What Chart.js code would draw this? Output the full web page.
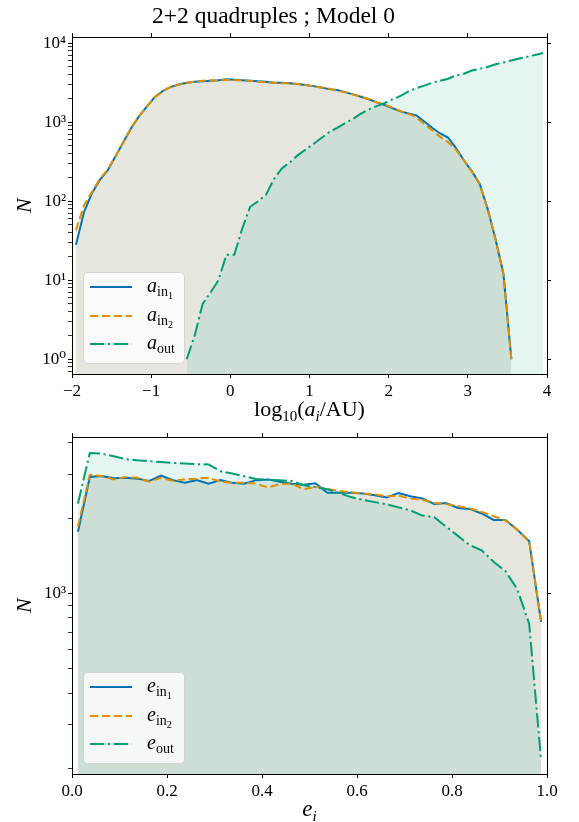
<!DOCTYPE html>
<html>
<head>
<meta charset="utf-8">
<script src="https://cdn.jsdelivr.net/npm/chart.js@4.4.1/dist/chart.umd.min.js"></script>
<style>
  html, body { margin: 0; padding: 0; background: #fff; }
  canvas { display: block; }
</style>
</head>
<body>
<canvas id="aChart" width="579" height="425"></canvas>
<canvas id="eChart" width="579" height="397"></canvas>
<script>
// ---- data: semimajor axes, log10(a/AU) bin centres ----
const aBins = [-1.95, -1.85, -1.75, -1.65, -1.55, -1.45, -1.35, -1.25, -1.15, -1.05,
  -0.95, -0.85, -0.75, -0.65, -0.55, -0.45, -0.35, -0.25, -0.15, -0.05,
  0.05, 0.15, 0.25, 0.35, 0.45, 0.55, 0.65, 0.75, 0.85, 0.95,
  1.05, 1.15, 1.25, 1.35, 1.45, 1.55, 1.65, 1.75, 1.85, 1.95,
  2.05, 2.15, 2.25, 2.35, 2.45, 2.55, 2.65, 2.75, 2.85, 2.95,
  3.05, 3.15, 3.25, 3.35, 3.45, 3.55, 3.65, 3.75, 3.85, 3.95];
const aIn1 = [28, 72, 125, 185, 245, 370, 560, 850, 1200, 1600,
  2100, 2500, 2800, 3000, 3150, 3250, 3300, 3350, 3400, 3500,
  3450, 3400, 3350, 3300, 3250, 3150, 3150, 3100, 3050, 2950,
  2860, 2750, 2620, 2550, 2400, 2250, 2100, 1950, 1780, 1650,
  1500, 1370, 1290, 1220, 1020, 850, 720, 640, 470, 330,
  240, 165, 80, 33, 12, 1, 0, 0, 0, 0];
const aIn2 = [43, 88, 130, 190, 250, 370, 560, 860, 1200, 1600,
  2080, 2480, 2800, 3000, 3150, 3250, 3350, 3400, 3350, 3450,
  3400, 3400, 3350, 3250, 3200, 3150, 3100, 3100, 3050, 2950,
  2850, 2750, 2650, 2500, 2400, 2250, 2100, 1950, 1780, 1680,
  1520, 1380, 1280, 1150, 950, 790, 650, 560, 450, 330,
  240, 165, 80, 33, 12, 1, 0, 0, 0, 0];
const aOut = [0, 0, 0, 0, 0, 0, 0, 0, 0, 0,
  0, 0, 0, 0, 1, 2, 5, 7, 10, 21,
  21, 45, 85, 100, 120, 190, 260, 310, 380, 450,
  530, 630, 750, 850, 970, 1100, 1280, 1450, 1600, 1750,
  1950, 2150, 2450, 2700, 2900, 3150, 3350, 3550, 3900, 4100,
  4500, 4750, 5000, 5400, 5700, 6050, 6400, 6750, 7100, 7500];

// ---- data: eccentricities, bin centres ----
const eBins = [0.0125, 0.0375, 0.0625, 0.0875, 0.1125, 0.1375, 0.1625, 0.1875, 0.2125, 0.2375,
  0.2625, 0.2875, 0.3125, 0.3375, 0.3625, 0.3875, 0.4125, 0.4375, 0.4625, 0.4875,
  0.5125, 0.5375, 0.5625, 0.5875, 0.6125, 0.6375, 0.6625, 0.6875, 0.7125, 0.7375,
  0.7625, 0.7875, 0.8125, 0.8375, 0.8625, 0.8875, 0.9125, 0.9375, 0.9625, 0.9875];
const eIn1 = [1766, 2925, 2950, 2890, 2905, 2880, 2820, 2960, 2840, 2775,
  2840, 2750, 2840, 2770, 2750, 2840, 2860, 2800, 2750, 2720,
  2760, 2530, 2530, 2530, 2510, 2470, 2420, 2520, 2450, 2400,
  2280, 2300, 2200, 2180, 2090, 1970, 1970, 1800, 1620, 770];
const eIn2 = [1850, 2985, 2950, 2860, 2920, 2905, 2800, 2905, 2820, 2865,
  2880, 2905, 2800, 2770, 2775, 2750, 2655, 2740, 2750, 2615,
  2670, 2620, 2570, 2540, 2510, 2490, 2450, 2460, 2400, 2370,
  2300, 2280, 2240, 2190, 2120, 2040, 1960, 1800, 1610, 780];
const eOut = [2290, 3646, 3622, 3537, 3450, 3408, 3378, 3360, 3330, 3310,
  3290, 3280, 3082, 3017, 2944, 2870, 2850, 2837, 2820, 2710,
  2667, 2610, 2520, 2430, 2370, 2320, 2275, 2210, 2150, 2050,
  2020, 1850, 1700, 1560, 1490, 1340, 1230, 1040, 757, 216];

const aLabels = ['a_{in_1}', 'a_{in_2}', 'a_{out}'];
const eLabels = ['e_{in_1}', 'e_{in_2}', 'e_{out}'];
const aTicks = [-2, -1, 0, 1, 2, 3, 4];
const eTicks = [0, 0.2, 0.4, 0.6, 0.8, 1.0];
const aDecades = [1, 10, 100, 1000, 10000];
const eDecades = [1000];

const SERIF = '"Liberation Serif", "DejaVu Serif", serif';
const BLUE = '#0173B2', ORANGE = '#DE8F05', GREEN = '#029E73';
const FILL = {
  [BLUE]: 'rgba(1,115,178,0.1)',
  [ORANGE]: 'rgba(222,143,5,0.1)',
  [GREEN]: 'rgba(2,158,115,0.1)',
};
const SUP = { '0': '\u2070', '1': '\u00B9', '2': '\u00B2', '3': '\u00B3', '4': '\u2074', '-': '\u207B' };

Chart.defaults.font.family = SERIF;
Chart.defaults.color = '#000';

function fontOf(p) {
  return (p.i ? 'italic ' : '') + p.s + 'px ' + SERIF;
}

function drawPieces(ctx, pieces, x, y, align) {
  let total = 0;
  pieces.forEach(p => {
    ctx.font = fontOf(p);
    p.w = ctx.measureText(p.t).width;
    total += p.w;
  });
  let cx = align === 'center' ? x - total / 2 : x;
  ctx.save();
  ctx.fillStyle = '#000';
  ctx.textAlign = 'left';
  ctx.textBaseline = 'alphabetic';
  pieces.forEach(p => {
    ctx.font = fontOf(p);
    ctx.fillText(p.t, cx, y + (p.dy || 0));
    cx += p.w;
  });
  ctx.restore();
}

// 'a_{in_1}' -> italic a, roman subscript in, smaller subscript 1
function labelPieces(label) {
  const m = label.match(/^(\w)_\{([a-z]+)(?:_(\d))?\}$/);
  const p = [{ t: m[1], s: 20, i: true }, { t: m[2], s: 14, dy: 4 }];
  if (m[3]) p.push({ t: m[3], s: 10, dy: 7 });
  return p;
}

// axis label under the x axis and the legend box, matplotlib style
const mathText = {
  id: 'mathText',
  afterDraw(chart, args, opts) {
    const ctx = chart.ctx;
    const ca = chart.chartArea;
    if (opts.xTitle) {
      drawPieces(ctx, opts.xTitle, (ca.left + ca.right) / 2, ca.bottom + 42, 'center');
    }
    const bw = 101, bh = 91;
    const bx = ca.left + 11, by = ca.bottom - 11 - bh;
    ctx.save();
    ctx.beginPath();
    ctx.roundRect(bx + 0.5, by + 0.5, bw, bh, 4);
    ctx.fillStyle = 'rgba(255,255,255,0.8)';
    ctx.fill();
    ctx.strokeStyle = 'rgba(204,204,204,0.8)';
    ctx.lineWidth = 1;
    ctx.stroke();
    const rows = [15, 44, 72];
    chart.data.datasets.forEach((ds, i) => {
      const ry = by + rows[i];
      ctx.beginPath();
      ctx.setLineDash(ds.borderDash || []);
      ctx.strokeStyle = ds.borderColor;
      ctx.lineWidth = ds.borderWidth;
      ctx.moveTo(bx + 7, ry);
      ctx.lineTo(bx + 49, ry);
      ctx.stroke();
      drawPieces(ctx, labelPieces(ds.label), bx + 64, ry + 5, 'left');
    });
    ctx.restore();
  }
};

function decadeLabel(v) {
  const e = Math.round(Math.log10(v));
  if (Math.abs(v - Math.pow(10, e)) > 1e-9 * v) return '';
  return '10' + String(e).split('').map(c => SUP[c]).join('');
}

function logTicks(min, max, decades, minor) {
  const out = [];
  decades.forEach(d => out.push({ value: d, major: true }));
  if (minor) {
    for (let e = -1; e <= 4; e++) {
      for (let m = 2; m <= 9; m++) {
        const v = m * Math.pow(10, e);
        if (v >= min && v <= max) out.push({ value: v, major: false });
      }
    }
  }
  return out.filter(t => t.value >= min && t.value <= max).sort((a, b) => a.value - b.value);
}

function series(label, data, color, dash, order) {
  return {
    label: label,
    data: data,
    borderColor: color,
    backgroundColor: FILL[color],
    borderWidth: 2,
    borderDash: dash,
    fill: 'start',
    pointRadius: 0,
    tension: 0,
    order: order,
    segment: {
      borderColor: ctx => (data[ctx.p0DataIndex] === 0 && data[ctx.p1DataIndex] === 0) ? 'rgba(0,0,0,0)' : undefined,
    },
  };
}

const spine = { color: '#000', width: 1 };
const tickGrid = { drawOnChartArea: false, drawTicks: true, tickLength: 4, tickColor: '#000',
  tickWidth: c => (c.tick && c.tick.major === false) ? 0.8 : 1 };
const tickFont = { family: SERIF, size: 17 };

function makeChart(id, cfg) {
  return new Chart(document.getElementById(id), {
    type: 'line',
    data: {
      labels: cfg.bins,
      datasets: [
        series(cfg.labels[0], cfg.s1, BLUE, [], 3),
        series(cfg.labels[1], cfg.s2, ORANGE, [8.3, 3.6], 2),
        series(cfg.labels[2], cfg.s3, GREEN, [14.4, 3.6, 2.2, 3.6], 1),
      ],
    },
    options: {
      responsive: false,
      animation: false,
      devicePixelRatio: 1,
      layout: { padding: { top: cfg.padTop, right: 32, left: 0, bottom: 0 } },
      plugins: {
        legend: { display: false },
        tooltip: { enabled: false },
        filler: { drawTime: 'beforeDatasetsDraw' },
        title: cfg.title ? {
          display: true, text: cfg.title, color: '#000',
          font: { family: SERIF, size: 23.5, weight: 'normal' },
          padding: { top: 3, bottom: 6 },
        } : { display: false },
        mathText: { xTitle: cfg.xTitle },
      },
      scales: {
        x: {
          type: 'linear', position: 'bottom', min: cfg.xMin, max: cfg.xMax,
          afterBuildTicks: s => { s.ticks = cfg.xTicks.map(v => ({ value: v })); },
          ticks: { font: tickFont, color: '#000', padding: 3, maxRotation: 0, autoSkip: false,
            callback: cfg.xFmt },
          grid: tickGrid, border: spine,
          afterFit: s => { s.height = cfg.xHeight; },
        },
        xTop: {
          axis: 'x', type: 'linear', position: 'top', min: cfg.xMin, max: cfg.xMax,
          afterBuildTicks: s => { s.ticks = cfg.xTicks.map(v => ({ value: v })); },
          ticks: { display: false, autoSkip: false },
          grid: tickGrid, border: spine,
          afterFit: s => { s.height = 0; },
        },
        y: {
          type: 'logarithmic', position: 'left', min: cfg.yMin, max: cfg.yMax,
          afterBuildTicks: s => { s.ticks = logTicks(s.min, s.max, cfg.decades, true); },
          ticks: { font: tickFont, color: '#000', padding: 2, autoSkip: false,
            callback: v => decadeLabel(v) },
          grid: tickGrid, border: spine,
          title: { display: true, text: 'N', color: '#000',
            font: { family: SERIF, size: 22, style: 'italic' }, padding: { top: 12, bottom: 0 } },
          afterFit: s => { s.width = 72; },
        },
        yRight: {
          axis: 'y', type: 'logarithmic', position: 'right', min: cfg.yMin, max: cfg.yMax,
          afterBuildTicks: s => { s.ticks = logTicks(s.min, s.max, cfg.decades, false); },
          ticks: { display: false, autoSkip: false },
          grid: tickGrid, border: spine,
          afterFit: s => { s.width = 0; },
        },
      },
    },
    plugins: [mathText],
  });
}

makeChart('aChart', {
  bins: aBins, s1: aIn1, s2: aIn2, s3: aOut, labels: aLabels,
  title: '2+2 quadruples ; Model 0', padTop: 0,
  xMin: -2, xMax: 4, xTicks: aTicks, xHeight: 51,
  xFmt: v => String(v).replace('-', '\u2212'),
  yMin: 0.65, yMax: 11900, decades: aDecades,
  xTitle: [
    { t: 'log', s: 22 }, { t: '10', s: 15, dy: 5 }, { t: '(', s: 22 },
    { t: 'a', s: 22, i: true }, { t: 'i', s: 15, i: true, dy: 5 }, { t: '/AU)', s: 22 },
  ],
});

makeChart('eChart', {
  bins: eBins, s1: eIn1, s2: eIn2, s3: eOut, labels: eLabels,
  title: null, padTop: 11,
  xMin: 0, xMax: 1, xTicks: eTicks, xHeight: 48,
  xFmt: v => Number(v).toFixed(1),
  yMin: 190, yMax: 4217, decades: eDecades,
  xTitle: [{ t: 'e', s: 23, i: true }, { t: 'i', s: 15, i: true, dy: 5 }],
});
</script>
</body>
</html>
